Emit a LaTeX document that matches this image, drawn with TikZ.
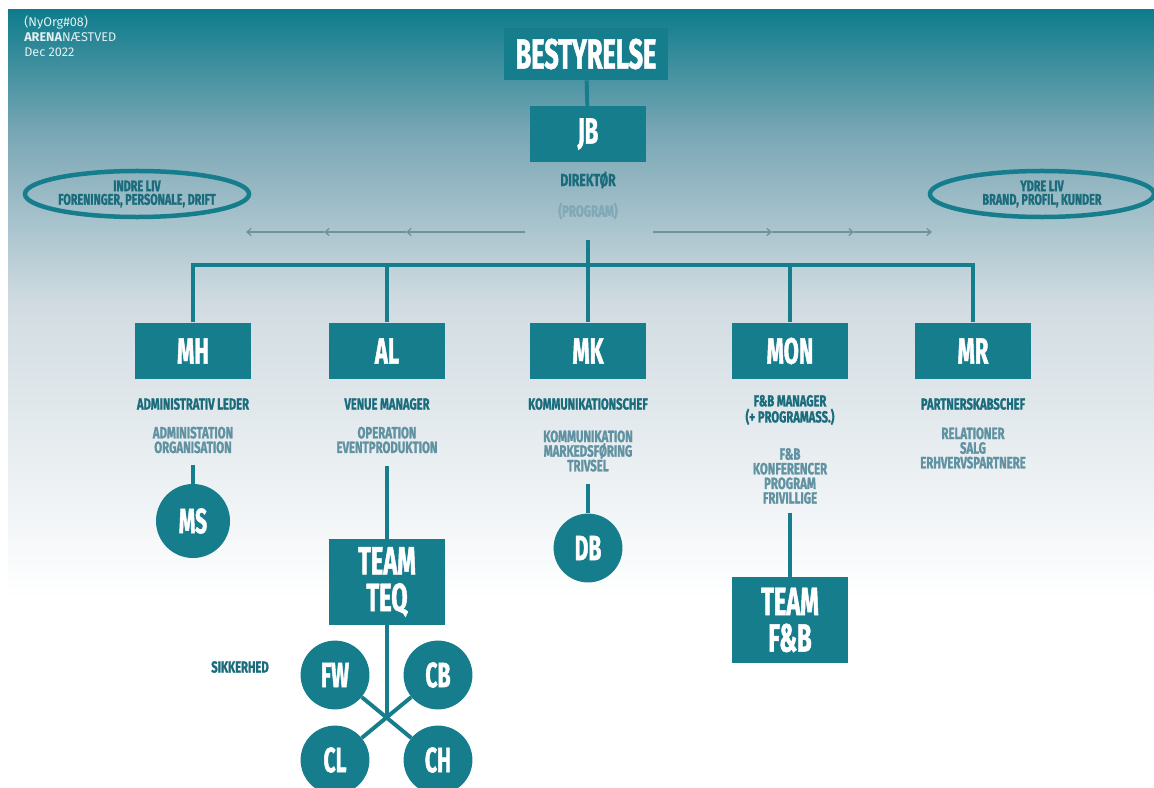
\documentclass[tikz,border=0pt]{standalone}
\usepackage{fontspec}
\setmainfont{Fira Sans}
\newfontfamily\bebas[FakeStretch=0.6, FakeBold=1.2]{Fira Sans}
\newfontfamily\bebasw[FakeStretch=0.7, FakeBold=1.2]{Fira Sans}
\usetikzlibrary{arrows.meta, shapes.geometric}
\tikzset{>={Straight Barb[length=3pt,width=5pt]}}
\definecolor{orgteal}{RGB}{22,125,141}
\definecolor{titleteal}{RGB}{26,108,124}
\definecolor{descteal}{RGB}{96,146,162}
\definecolor{progteal}{RGB}{128,168,182}
\definecolor{arrowgray}{RGB}{112,146,155}
\definecolor{bgtop}{RGB}{14,124,140}
\definecolor{bgmida}{RGB}{120,166,180}
\definecolor{bgmidb}{RGB}{208,219,225}
\tikzset{
  box/.style={fill=orgteal, text=white, inner sep=0pt, align=center,
    font=\bebas\bfseries\fontsize{26}{28}\selectfont,
    minimum width=2.9cm, minimum height=1.42cm},
  teambox/.style={box, minimum width=2.875cm, minimum height=2.125cm,
    font=\bebas\bfseries\fontsize{28}{26}\selectfont},
  circ/.style={circle, fill=orgteal, text=white, inner sep=0pt,
    font=\bebas\bfseries\fontsize{25}{27}\selectfont, minimum size=1.72cm},
  title/.style={text=titleteal, inner sep=0pt, align=center,
    font=\bebasw\bfseries\fontsize{11.4}{11.4}\selectfont},
  desc/.style={text=descteal, inner sep=0pt, align=center,
    font=\bebasw\bfseries\fontsize{11.6}{10.4}\selectfont},
  oval/.style={ellipse, draw=orgteal, line width=3.2pt, inner sep=0pt,
    text=titleteal, align=center, minimum width=5.6cm, minimum height=1.15cm,
    font=\bebasw\bfseries\fontsize{11}{9.6}\selectfont},
  conn/.style={draw=orgteal, line width=2.8pt},
  arr/.style={draw=arrowgray, line width=0.9pt}
}
\begin{document}
\begin{tikzpicture}[x=0.025cm, y=-0.025cm]
\useasboundingbox (0,0) rectangle (1154,787);
\fill[white] (0,0) rectangle (1154,787);
\shade[top color=bgtop, bottom color=bgmida] (8,10) rectangle (1154,131);
\shade[top color=bgmida, bottom color=bgmidb] (8,130) rectangle (1154,301);
\shade[top color=bgmidb, bottom color=white] (8,300) rectangle (1154,600);

\node[anchor=north west, align=left, inner sep=0pt, text=white!88!orgteal,
  font=\fontsize{9}{10.6}\selectfont] (tag) at (24,16)
  {(NyOrg\#08)\\\textbf{ARENA}NÆSTVED\\Dec 2022};

\node[box, minimum width=4.075cm, minimum height=1.3cm,
  font=\bebas\bfseries\fontsize{30}{30}\selectfont] (board) at (586,54) {BESTYRELSE};
\node[box, minimum height=1.375cm] (JB) at (588,134) {JB};
\node[title, font=\bebasw\bfseries\fontsize{12.4}{12.4}\selectfont] (dir) at (588,180) {DIREKTØR};
\node[desc, text=progteal] (prog) at (588,211) {(PROGRAM)};
\draw[conn] (board) -- (JB);

\node[oval] (inner) at (137,194) {INDRE LIV\\FORENINGER, PERSONALE, DRIFT};
\node[oval] (outer) at (1042,194) {YDRE LIV\\BRAND, PROFIL, KUNDER};

\coordinate (l0) at (525,232);
\coordinate (l1) at (406,232);
\coordinate (l2) at (324,232);
\coordinate (l3) at (246,232);
\coordinate (r0) at (653,232);
\coordinate (r1) at (772,232);
\coordinate (r2) at (854,232);
\coordinate (r3) at (932,232);
\draw[arr] (l0) edge[->] (l1) (l1) edge[->] (l2) (l2) edge[->] (l3);
\draw[arr] (r0) edge[->] (r1) (r1) edge[->] (r2) (r2) edge[->] (r3);

\foreach \n/\x in {MH/193, AL/387, MK/588, MON/790, MR/973}
  \node[box] (\n) at (\x,351) {\n};

\coordinate (stem) at (588,240);
\coordinate (hub) at (588,265);
\draw[conn] (stem) -- (hub);
\draw[conn] (MH.north) |- (hub) -| (MR.north);
\foreach \n in {AL, MK, MON}
  \draw[conn] (\n.north) -- (\n.north |- hub);

\node[title] (MHt) at (193,404) {ADMINISTRATIV LEDER};
\node[title] (ALt) at (387,404) {VENUE MANAGER};
\node[title] (MKt) at (588,404) {KOMMUNIKATIONSCHEF};
\node[title] (MONt) at (790,410) {F\&B MANAGER\\(+ PROGRAMASS.)};
\node[title] (MRt) at (973,404) {PARTNERSKABSCHEF};

\node[desc] (MHd) at (193,440) {ADMINISTATION\\ORGANISATION};
\node[desc] (ALd) at (387,440) {OPERATION\\EVENTPRODUKTION};
\node[desc] (MKd) at (588,451) {KOMMUNIKATION\\MARKEDSFØRING\\TRIVSEL};
\node[desc] (MONd) at (790,476) {F\&B\\KONFERENCER\\PROGRAM\\FRIVILLIGE};
\node[desc] (MRd) at (973,448) {RELATIONER\\SALG\\ERHVERVSPARTNERE};

\node[circ, minimum size=1.85cm] (MS) at (193,521) {MS};
\node[circ] (DB) at (588,548) {DB};
\node[teambox] (TEQ) at (387,582) {TEAM\\TEQ};
\node[teambox] (TFB) at (790,620) {TEAM\\F\&B};

\node[circ] (FW) at (335,675) {FW};
\node[circ] (CB) at (438,675) {CB};
\node[circ] (CL) at (335,760) {CL};
\node[circ] (CH) at (438,760) {CH};
\node[title] (sik) at (240,667) {SIKKERHED};
\coordinate (cross) at (387,717);

\draw[conn, shorten <=8pt] (MHd) -- (MS);
\draw[conn, shorten <=9pt] (ALd) -- (TEQ);
\draw[conn, shorten <=9pt] (MKd) -- (DB);
\draw[conn, shorten <=6pt] (MONd) -- (TFB);
\draw[conn] (TEQ) -- (cross);
\draw[conn] (FW) -- (CH);
\draw[conn] (CB) -- (CL);
\end{tikzpicture}
\end{document}
